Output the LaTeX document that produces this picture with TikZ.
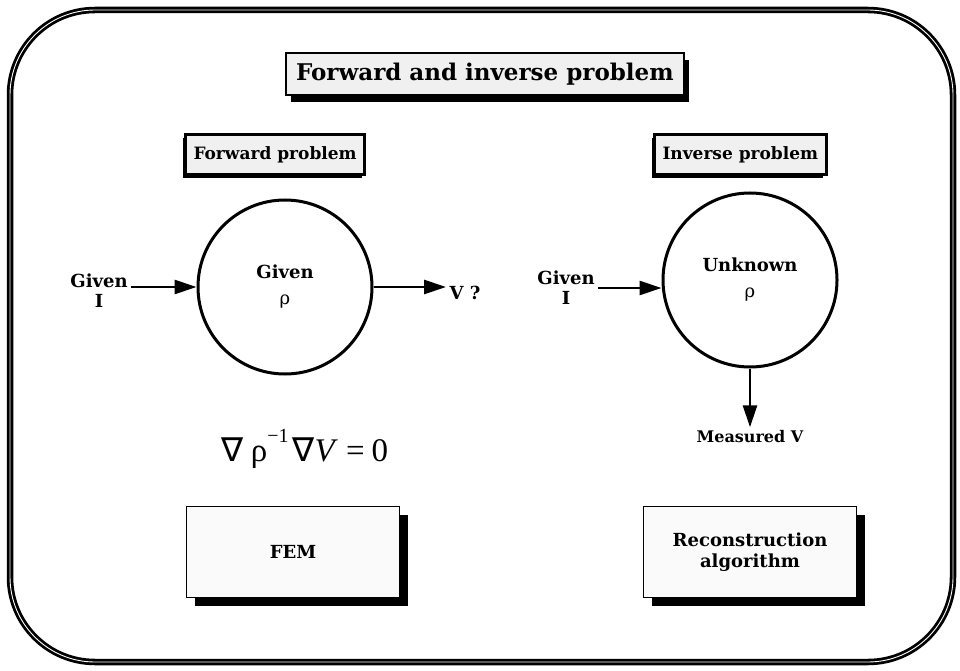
\documentclass[tikz,border=0pt]{standalone}
\usepackage{fontspec}
\setmainfont{DejaVu Serif}
\newfontfamily\eqfont{Liberation Serif}
\newfontfamily\nablafont{DejaVu Sans}
\usetikzlibrary{arrows.meta, shadows}

\begin{document}
\begin{tikzpicture}[x=1pt, y=-1pt,
  lbl/.style={font=\fontsize{18}{20}\selectfont\bfseries, align=center},
  headbox/.style={draw, line width=3pt, fill=gray!12, minimum height=40, inner xsep=8pt,
    font=\fontsize{17}{19}\selectfont\bfseries,
    drop shadow={shadow xshift=-3pt, shadow yshift=-3pt, opacity=1, fill=black}},
  methbox/.style={draw, line width=1.2pt, fill=gray!4, minimum width=213, minimum height=91,
    align=center, font=\fontsize{18}{21}\selectfont\bfseries,
    drop shadow={shadow xshift=8pt, shadow yshift=-8pt, opacity=1, fill=black}},
  body/.style={circle, draw, line width=3pt, minimum size=174, inner sep=0pt,
    align=center, font=\fontsize{18}{26}\selectfont},
  flow/.style={-{Triangle[length=22pt, width=14pt]}, line width=2.8pt}
]
  \useasboundingbox (0,0) rectangle (960,671);
  % frame
  \draw[line width=2.8pt, double=white, double distance=0.9pt, rounded corners=85pt]
    (10,10) rectangle (953,662);

  \node[draw, line width=2pt, fill=gray!12, minimum height=42, inner xsep=10pt, anchor=west,
    font=\fontsize{23}{25}\selectfont\bfseries,
    drop shadow={shadow xshift=5pt, shadow yshift=-7pt, opacity=1, fill=black}]
    (title) at (285,74) {Forward and inverse problem};

  \node[headbox, anchor=west] (fwd) at (184,155) {Forward problem};
  \node[headbox, anchor=west] (inv) at (653,155) {Inverse problem};

  % forward side
  \node[body] (rhoL) at (285,287) {\textbf{Given}\\ρ};
  \node[lbl] (inL) at (99,291) {Given\\I};
  \node[lbl, anchor=west] (vq) at (446,293) {V ?};
  \draw[flow] (inL.east |- rhoL.west) -- (rhoL.west);
  \draw[flow] (rhoL.east) -- (vq.west |- rhoL.east);

  \node[font=\eqfont\fontsize{33}{36}\selectfont] (eq) at (305,449)
    {{\nablafont ∇}\hspace{7pt}ρ\raisebox{19pt}{\fontsize{20}{22}\selectfont−1}\hspace{4pt}{\nablafont ∇}\textit{V}\hspace{8pt}=\hspace{7pt}0};

  % inverse side
  \node[body] (rhoR) at (750,280) {\textbf{Unknown}\\ρ};
  \node[lbl] (inR) at (566,288) {Given\\I};
  \node[lbl, font=\fontsize{16}{18}\selectfont\bfseries] (meas) at (750,437) {Measured V};
  \draw[flow] (inR.east) -- (rhoR.west |- inR.east);
  \draw[flow] (rhoR.south) -- (meas.north);

  % methods
  \node[methbox] (fem) at (293,552) {FEM};
  \node[methbox] (rec) at (750,552) {Reconstruction\\algorithm};
\end{tikzpicture}
\end{document}
